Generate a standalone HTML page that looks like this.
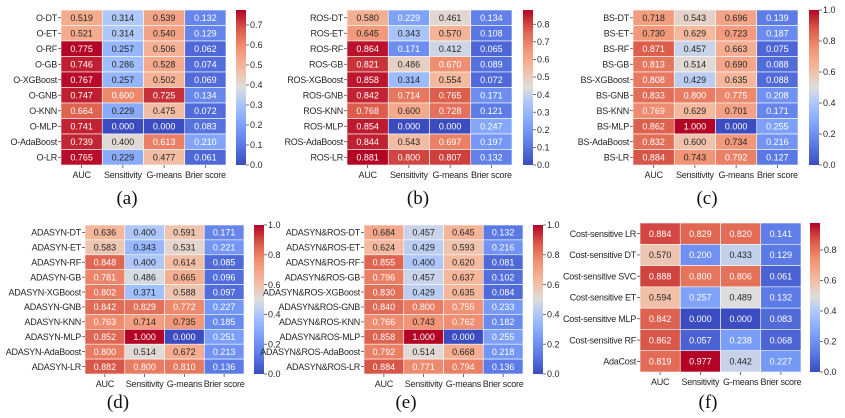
<!DOCTYPE html>
<html><head><meta charset="utf-8"><style>
html,body{margin:0;padding:0;background:#fff;width:845px;height:418px;overflow:hidden}
svg{display:block}
text{font-family:"Liberation Sans",sans-serif}
</style></head><body>
<svg id="fig" width="845" height="418" viewBox="0 0 845 418" xmlns="http://www.w3.org/2000/svg"></svg>
<script>
const metrics = ["AUC","Sensitivity","G-means","Brier score"];
const base10 = ["DT","ET","RF","GB","XGBoost","GNB","KNN","MLP","AdaBoost","LR"];
const rowsA = base10.map(m=>"O-"+m);
const valsA = [[0.519,0.314,0.539,0.132],[0.521,0.314,0.540,0.129],[0.775,0.257,0.506,0.062],[0.746,0.286,0.528,0.074],[0.767,0.257,0.502,0.069],[0.747,0.600,0.725,0.134],[0.664,0.229,0.475,0.072],[0.741,0.000,0.000,0.083],[0.739,0.400,0.613,0.210],[0.765,0.229,0.477,0.061]];
const ticksA = [0.0,0.1,0.2,0.3,0.4,0.5,0.6,0.7];
const rowsB = base10.map(m=>"ROS-"+m);
const valsB = [[0.580,0.229,0.461,0.134],[0.645,0.343,0.570,0.108],[0.864,0.171,0.412,0.065],[0.821,0.486,0.670,0.089],[0.858,0.314,0.554,0.072],[0.842,0.714,0.765,0.171],[0.768,0.600,0.728,0.121],[0.854,0.000,0.000,0.247],[0.844,0.543,0.697,0.197],[0.881,0.800,0.807,0.132]];
const ticksB = [0.0,0.1,0.2,0.3,0.4,0.5,0.6,0.7,0.8];
const rowsC = base10.map(m=>"BS-"+m);
const valsC = [[0.718,0.543,0.696,0.139],[0.730,0.629,0.723,0.187],[0.871,0.457,0.663,0.075],[0.813,0.514,0.690,0.088],[0.808,0.429,0.635,0.088],[0.833,0.800,0.775,0.208],[0.769,0.629,0.701,0.171],[0.862,1.000,0.000,0.255],[0.832,0.600,0.734,0.216],[0.884,0.743,0.792,0.127]];
const ticksC = [0.0,0.2,0.4,0.6,0.8,1.0];
const rowsD = base10.map(m=>"ADASYN-"+m);
const valsD = [[0.636,0.400,0.591,0.171],[0.583,0.343,0.531,0.221],[0.848,0.400,0.614,0.085],[0.781,0.486,0.665,0.096],[0.802,0.371,0.588,0.097],[0.842,0.829,0.772,0.227],[0.763,0.714,0.735,0.185],[0.852,1.000,0.000,0.251],[0.800,0.514,0.672,0.213],[0.882,0.800,0.810,0.136]];
const ticksD = [0.0,0.2,0.4,0.6,0.8,1.0];
const rowsE = base10.map(m=>"ADASYN&ROS-"+m);
const valsE = [[0.684,0.457,0.645,0.132],[0.624,0.429,0.593,0.216],[0.855,0.400,0.620,0.081],[0.796,0.457,0.637,0.102],[0.830,0.429,0.635,0.084],[0.840,0.800,0.755,0.233],[0.766,0.743,0.762,0.182],[0.858,1.000,0.000,0.255],[0.792,0.514,0.668,0.218],[0.884,0.771,0.794,0.136]];
const ticksE = [0.0,0.2,0.4,0.6,0.8,1.0];
const rowsF = ["Cost-sensitive LR","Cost-sensitive DT","Cost-sensitive SVC","Cost-sensitive ET","Cost-sensitive MLP","Cost-sensitive RF","AdaCost"];
const valsF = [[0.884,0.829,0.820,0.141],[0.570,0.200,0.433,0.129],[0.888,0.800,0.806,0.061],[0.594,0.257,0.489,0.132],[0.842,0.000,0.000,0.083],[0.862,0.057,0.238,0.068],[0.819,0.977,0.442,0.227]];
const ticksF = [0.0,0.2,0.4,0.6,0.8];

const layouts = [
 {id:"a",rows:rowsA,vals:valsA,ticks:ticksA,x0:61,x1:226,y0:10,y1:165,cb:236,lx:127,ly:204},
 {id:"b",rows:rowsB,vals:valsB,ticks:ticksB,x0:347,x1:512,y0:10,y1:165,cb:523,lx:418,ly:204},
 {id:"c",rows:rowsC,vals:valsC,ticks:ticksC,x0:633,x1:798,y0:10,y1:165,cb:809,lx:707,ly:204},
 {id:"d",rows:rowsD,vals:valsD,ticks:ticksD,x0:85,x1:244,y0:225,y1:374,cb:254,lx:118,ly:408},
 {id:"e",rows:rowsE,vals:valsE,ticks:ticksE,x0:364,x1:523,y0:225,y1:374,cb:533,lx:406,ly:408},
 {id:"f",rows:rowsF,vals:valsF,ticks:ticksF,x0:640,x1:801,y0:223,y1:372,cb:810,lx:708,ly:408}
];
const cmStops=[[0,[59,76,192]],[0.125,[90,120,228]],[0.25,[124,159,249]],[0.375,[162,193,255]],[0.5,[221,221,221]],[0.625,[245,186,158]],[0.75,[242,147,117]],[0.875,[219,92,74]],[1,[180,4,38]]];
function cmap(t){t=Math.max(0,Math.min(1,t));for(let i=1;i<cmStops.length;i++){if(t<=cmStops[i][0]){const a=cmStops[i-1],b=cmStops[i];const f=(t-a[0])/(b[0]-a[0]);return a[1].map((v,k)=>Math.round(v+(b[1][k]-v)*f));}}return cmStops[cmStops.length-1][1];}
function lum(c){const l=c.map(v=>{v/=255;return v<=0.03928?v/12.92:Math.pow((v+0.055)/1.055,2.4)});return 0.2126*l[0]+0.7152*l[1]+0.0722*l[2];}
const NS="http://www.w3.org/2000/svg";
const svg=document.getElementById("fig");
function mk(tag,attrs,parent){const e=document.createElementNS(NS,tag);for(const k in attrs)e.setAttribute(k,attrs[k]);(parent||svg).appendChild(e);return e;}
const defs=mk("defs",{});
const gstops=[];for(let i=0;i<=20;i++)gstops.push(i/20);
const FS="9", LS="-0.25";
layouts.forEach(L=>{
 const g=mk("g",{});
 
 
 const flat=L.vals.flat();const vmin=Math.min(...flat),vmax=Math.max(...flat);
 const nr=L.rows.length,nc=metrics.length;
 const cw=(L.x1-L.x0)/nc,ch=(L.y1-L.y0)/nr;
 const xs=j=>L.x0+j*cw, ys=i=>L.y0+i*ch;
 const norm=v=>(v-vmin)/(vmax-vmin);
 L.vals.forEach((row,i)=>row.forEach((v,j)=>{
  const c=cmap(norm(v));
  const r=mk("rect",{x:xs(j),y:ys(i),width:cw,height:ch,fill:`rgb(${c})`,stroke:"#fff","stroke-width":0.6},g);
  
  
  const t=mk("text",{x:xs(j)+cw/2,y:ys(i)+ch/2+3.2,"text-anchor":"middle","font-size":FS,fill:lum(c)>0.408?"#262626":"#ffffff"},g);
  t.textContent=v.toFixed(3);
  
  
 }));
 L.rows.forEach((name,i)=>{
  const y=ys(i)+ch/2;
  mk("line",{x1:L.x0-3,x2:L.x0,y1:y,y2:y,stroke:"#333","stroke-width":0.7},g);
  const t=mk("text",{x:L.x0-4,y:y+3.2,"text-anchor":"end","font-size":FS,"letter-spacing":LS,fill:"#262626"},g);
  t.textContent=name;
  
  
 });
 metrics.forEach((m,j)=>{
  const x=xs(j)+cw/2;
  mk("line",{x1:x,x2:x,y1:L.y1,y2:L.y1+3,stroke:"#333","stroke-width":0.7},g);
  const t=mk("text",{x:x,y:L.y1+13,"text-anchor":"middle","font-size":FS,"letter-spacing":LS,fill:"#262626"},g);
  t.textContent=m;
  
  
 });
 const gid="grad"+L.id;
 const lg=mk("linearGradient",{id:gid,x1:0,y1:1,x2:0,y2:0},defs);
 gstops.forEach(s=>mk("stop",{offset:s,"stop-color":`rgb(${cmap(s)})`},lg));
 const cb=mk("rect",{x:L.cb,y:L.y0,width:10,height:L.y1-L.y0,fill:`url(#${gid})`},g);
 
 
 L.ticks.forEach(tv=>{
  const y=L.y1-(tv-vmin)/(vmax-vmin)*(L.y1-L.y0);
  mk("line",{x1:L.cb+10,x2:L.cb+13,y1:y,y2:y,stroke:"#333","stroke-width":0.7},g);
  const t=mk("text",{x:L.cb+14,y:y+3.2,"font-size":FS,fill:"#262626"},g);
  t.textContent=tv.toFixed(1);
  
  
 });
 const cap=mk("text",{x:L.lx,y:L.ly,"text-anchor":"middle","font-size":"19",fill:"#111"},g);
 cap.style.fontFamily='"Liberation Serif",serif';
 cap.textContent="("+L.id+")";
 
 
});
</script>
</body></html>
